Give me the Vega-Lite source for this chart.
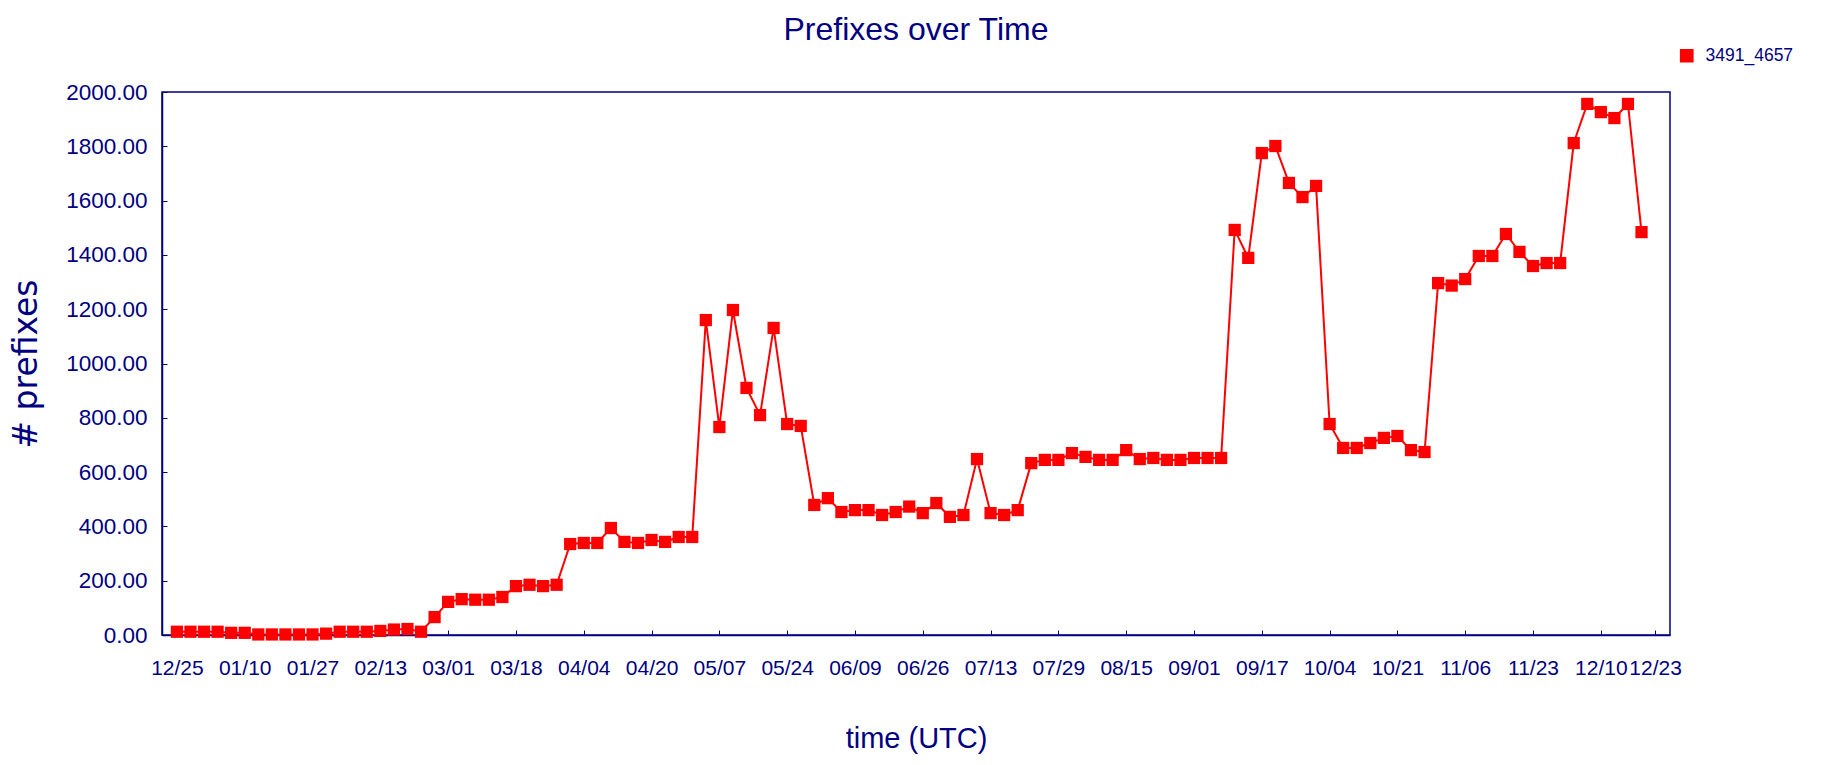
{
  "$schema": "https://vega.github.io/schema/vega-lite/v6.json",
  "width": 1508,
  "height": 543,
  "autosize": {"type": "none"},
  "padding": {"left": 162, "top": 92, "right": 158, "bottom": 130},
  "background": "white",
  "title": {
    "text": "Prefixes over Time",
    "font": "Liberation Sans",
    "fontSize": 32,
    "fontWeight": "normal",
    "color": "#000080",
    "anchor": "middle",
    "frame": "group",
    "offset": 0
  },
  "config": {
    "view": {"stroke": "#000080", "strokeWidth": 1.5}
  },
  "data": {
    "values": [
      {"time": "2008-12-25T00:00", "prefixes": 12},
      {"time": "2008-12-28T08:00", "prefixes": 12},
      {"time": "2008-12-31T16:00", "prefixes": 12},
      {"time": "2009-01-04T00:00", "prefixes": 12},
      {"time": "2009-01-07T08:00", "prefixes": 8},
      {"time": "2009-01-10T16:00", "prefixes": 8},
      {"time": "2009-01-14T00:00", "prefixes": 2},
      {"time": "2009-01-17T08:00", "prefixes": 2},
      {"time": "2009-01-20T16:00", "prefixes": 2},
      {"time": "2009-01-24T00:00", "prefixes": 2},
      {"time": "2009-01-27T08:00", "prefixes": 2},
      {"time": "2009-01-30T16:00", "prefixes": 5},
      {"time": "2009-02-03T00:00", "prefixes": 12},
      {"time": "2009-02-06T08:00", "prefixes": 12},
      {"time": "2009-02-09T16:00", "prefixes": 12},
      {"time": "2009-02-13T00:00", "prefixes": 15},
      {"time": "2009-02-16T08:00", "prefixes": 20},
      {"time": "2009-02-19T16:00", "prefixes": 22},
      {"time": "2009-02-23T00:00", "prefixes": 12},
      {"time": "2009-02-26T08:00", "prefixes": 66},
      {"time": "2009-03-01T16:00", "prefixes": 122},
      {"time": "2009-03-05T00:00", "prefixes": 132},
      {"time": "2009-03-08T08:00", "prefixes": 130},
      {"time": "2009-03-11T16:00", "prefixes": 130},
      {"time": "2009-03-15T00:00", "prefixes": 140},
      {"time": "2009-03-18T08:00", "prefixes": 180},
      {"time": "2009-03-21T16:00", "prefixes": 185},
      {"time": "2009-03-25T00:00", "prefixes": 180},
      {"time": "2009-03-28T08:00", "prefixes": 185},
      {"time": "2009-03-31T16:00", "prefixes": 335},
      {"time": "2009-04-04T00:00", "prefixes": 339},
      {"time": "2009-04-07T08:00", "prefixes": 339},
      {"time": "2009-04-10T16:00", "prefixes": 394},
      {"time": "2009-04-14T00:00", "prefixes": 343},
      {"time": "2009-04-17T08:00", "prefixes": 339},
      {"time": "2009-04-20T16:00", "prefixes": 350},
      {"time": "2009-04-24T00:00", "prefixes": 343},
      {"time": "2009-04-27T08:00", "prefixes": 361},
      {"time": "2009-04-30T16:00", "prefixes": 361},
      {"time": "2009-05-04T00:00", "prefixes": 1160},
      {"time": "2009-05-07T08:00", "prefixes": 766},
      {"time": "2009-05-10T16:00", "prefixes": 1197},
      {"time": "2009-05-14T00:00", "prefixes": 910},
      {"time": "2009-05-17T08:00", "prefixes": 810},
      {"time": "2009-05-20T16:00", "prefixes": 1131},
      {"time": "2009-05-24T00:00", "prefixes": 777},
      {"time": "2009-05-27T08:00", "prefixes": 770},
      {"time": "2009-05-30T16:00", "prefixes": 479},
      {"time": "2009-06-03T00:00", "prefixes": 504},
      {"time": "2009-06-06T08:00", "prefixes": 453},
      {"time": "2009-06-09T16:00", "prefixes": 460},
      {"time": "2009-06-13T00:00", "prefixes": 460},
      {"time": "2009-06-16T08:00", "prefixes": 442},
      {"time": "2009-06-19T16:00", "prefixes": 453},
      {"time": "2009-06-23T00:00", "prefixes": 473},
      {"time": "2009-06-26T08:00", "prefixes": 449},
      {"time": "2009-06-29T16:00", "prefixes": 486},
      {"time": "2009-07-03T00:00", "prefixes": 435},
      {"time": "2009-07-06T08:00", "prefixes": 442},
      {"time": "2009-07-09T16:00", "prefixes": 648},
      {"time": "2009-07-13T00:00", "prefixes": 449},
      {"time": "2009-07-16T08:00", "prefixes": 442},
      {"time": "2009-07-19T16:00", "prefixes": 460},
      {"time": "2009-07-23T00:00", "prefixes": 633},
      {"time": "2009-07-26T08:00", "prefixes": 645},
      {"time": "2009-07-29T16:00", "prefixes": 645},
      {"time": "2009-08-02T00:00", "prefixes": 670},
      {"time": "2009-08-05T08:00", "prefixes": 656},
      {"time": "2009-08-08T16:00", "prefixes": 645},
      {"time": "2009-08-12T00:00", "prefixes": 645},
      {"time": "2009-08-15T08:00", "prefixes": 681},
      {"time": "2009-08-18T16:00", "prefixes": 648},
      {"time": "2009-08-22T00:00", "prefixes": 652},
      {"time": "2009-08-25T08:00", "prefixes": 645},
      {"time": "2009-08-28T16:00", "prefixes": 645},
      {"time": "2009-09-01T00:00", "prefixes": 652},
      {"time": "2009-09-04T08:00", "prefixes": 652},
      {"time": "2009-09-07T16:00", "prefixes": 652},
      {"time": "2009-09-11T00:00", "prefixes": 1492},
      {"time": "2009-09-14T08:00", "prefixes": 1389},
      {"time": "2009-09-17T16:00", "prefixes": 1775},
      {"time": "2009-09-21T00:00", "prefixes": 1801},
      {"time": "2009-09-24T08:00", "prefixes": 1665},
      {"time": "2009-09-27T16:00", "prefixes": 1613},
      {"time": "2009-10-01T00:00", "prefixes": 1654},
      {"time": "2009-10-04T08:00", "prefixes": 777},
      {"time": "2009-10-07T16:00", "prefixes": 689},
      {"time": "2009-10-11T00:00", "prefixes": 689},
      {"time": "2009-10-14T08:00", "prefixes": 707},
      {"time": "2009-10-17T16:00", "prefixes": 726},
      {"time": "2009-10-21T00:00", "prefixes": 733},
      {"time": "2009-10-24T08:00", "prefixes": 681},
      {"time": "2009-10-27T16:00", "prefixes": 674},
      {"time": "2009-10-31T00:00", "prefixes": 1296},
      {"time": "2009-11-03T08:00", "prefixes": 1287},
      {"time": "2009-11-06T16:00", "prefixes": 1311},
      {"time": "2009-11-10T00:00", "prefixes": 1396},
      {"time": "2009-11-13T08:00", "prefixes": 1396},
      {"time": "2009-11-16T16:00", "prefixes": 1477},
      {"time": "2009-11-20T00:00", "prefixes": 1411},
      {"time": "2009-11-23T08:00", "prefixes": 1359},
      {"time": "2009-11-26T16:00", "prefixes": 1370},
      {"time": "2009-11-30T00:00", "prefixes": 1370},
      {"time": "2009-12-03T08:00", "prefixes": 1812},
      {"time": "2009-12-06T16:00", "prefixes": 1956},
      {"time": "2009-12-10T00:00", "prefixes": 1926},
      {"time": "2009-12-13T08:00", "prefixes": 1904},
      {"time": "2009-12-16T16:00", "prefixes": 1956},
      {"time": "2009-12-20T00:00", "prefixes": 1484}
    ]
  },
  "encoding": {
    "x": {
      "field": "time",
      "type": "temporal",
      "scale": {
        "domain": [
          {"year": 2008, "month": 12, "date": 21, "hours": 8},
          {"year": 2009, "month": 12, "date": 27}
        ]
      },
      "axis": {
        "title": "time (UTC)",
        "titleFont": "Liberation Sans",
        "titleFontSize": 29,
        "titleFontWeight": "normal",
        "titleColor": "#000080",
        "titlePadding": 46,
        "format": "%m/%d",
        "values": [
          {"year": 2008, "month": 12, "date": 25},
          {"year": 2009, "month": 1, "date": 10, "hours": 16},
          {"year": 2009, "month": 1, "date": 27, "hours": 8},
          {"year": 2009, "month": 2, "date": 13},
          {"year": 2009, "month": 3, "date": 1, "hours": 16},
          {"year": 2009, "month": 3, "date": 18, "hours": 8},
          {"year": 2009, "month": 4, "date": 4},
          {"year": 2009, "month": 4, "date": 20, "hours": 16},
          {"year": 2009, "month": 5, "date": 7, "hours": 8},
          {"year": 2009, "month": 5, "date": 24},
          {"year": 2009, "month": 6, "date": 9, "hours": 16},
          {"year": 2009, "month": 6, "date": 26, "hours": 8},
          {"year": 2009, "month": 7, "date": 13},
          {"year": 2009, "month": 7, "date": 29, "hours": 16},
          {"year": 2009, "month": 8, "date": 15, "hours": 8},
          {"year": 2009, "month": 9, "date": 1},
          {"year": 2009, "month": 9, "date": 17, "hours": 16},
          {"year": 2009, "month": 10, "date": 4, "hours": 8},
          {"year": 2009, "month": 10, "date": 21},
          {"year": 2009, "month": 11, "date": 6, "hours": 16},
          {"year": 2009, "month": 11, "date": 23, "hours": 8},
          {"year": 2009, "month": 12, "date": 10},
          {"year": 2009, "month": 12, "date": 23, "hours": 8}
        ],
        "labelFont": "Liberation Sans",
        "labelFontSize": 21,
        "labelColor": "#000080",
        "labelOverlap": false,
        "labelFlush": false,
        "labelBound": false,
        "labelPadding": 27,
        "tickSize": -5,
        "tickColor": "#000080",
        "domainColor": "#000080",
        "domainWidth": 1.5,
        "grid": false
      }
    },
    "y": {
      "field": "prefixes",
      "type": "quantitative",
      "scale": {"domain": [0, 2000], "nice": false},
      "axis": {
        "title": "# prefixes",
        "titleFont": "DejaVu Sans",
        "titleFontSize": 33,
        "titleFontWeight": "normal",
        "titleColor": "#000080",
        "titlePadding": 22,
        "values": [0, 200, 400, 600, 800, 1000, 1200, 1400, 1600, 1800, 2000],
        "format": ".2f",
        "labelFont": "Liberation Sans",
        "labelFontSize": 22.5,
        "labelColor": "#000080",
        "labelPadding": 20,
        "labelOverlap": false,
        "labelFlush": false,
        "tickSize": -5,
        "tickColor": "#000080",
        "domainColor": "#000080",
        "domainWidth": 1.5,
        "grid": false
      }
    },
    "color": {
      "datum": "3491_4657",
      "type": "nominal",
      "scale": {"range": ["#ff0000"]},
      "legend": {
        "title": null,
        "orient": "none",
        "legendX": 1516,
        "legendY": -45,
        "symbolType": "square",
        "symbolSize": 150,
        "symbolFillColor": "#ff0000",
        "symbolStrokeColor": "#ff0000",
        "labelFont": "Liberation Sans",
        "labelFontSize": 17.5,
        "labelColor": "#000080",
        "labelOffset": 10
      }
    }
  },
  "layer": [
    {"mark": {"type": "line", "strokeWidth": 2}},
    {"mark": {"type": "point", "shape": "square", "filled": true, "size": 150, "opacity": 1}}
  ]
}
